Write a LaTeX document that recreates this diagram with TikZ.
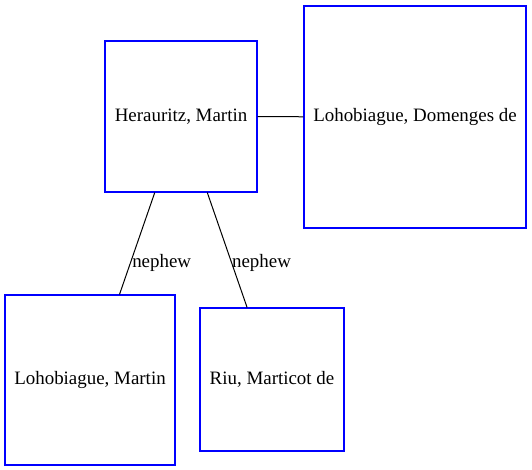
\documentclass[tikz,border=0pt]{standalone}
\usepackage{fontspec}
\setmainfont{Liberation Serif}
\usetikzlibrary{positioning}
\definecolor{PersonBlue}{HTML}{0000FF}

\begin{document}
\begin{tikzpicture}[
  x=0.75pt,y=-0.75pt,
  person/.style={draw=PersonBlue,line width=0.8pt,align=center,font=\fontsize{14.2}{16}\selectfont,inner sep=2pt},
  rel/.style={draw=black,line width=0.75pt},
  lbl/.style={font=\fontsize{14.2}{16}\selectfont,anchor=west,inner sep=0pt}
]
\useasboundingbox (0,0) rectangle (532,470);
\node[person,minimum width=114pt,minimum height=113.25pt] (herauritz) at (181,116.5) {Herauritz, Martin};
\node[person,minimum width=166.5pt,minimum height=166.5pt] (domenges) at (415,117) {Lohobiague, Domenges de};
\node[person,minimum width=127.5pt,minimum height=127.5pt] (lmartin) at (90,380) {Lohobiague, Martin};
\node[person,minimum width=108pt,minimum height=107.25pt] (riu) at (272,379.5) {Riu, Marticot de};

\draw[rel] (herauritz) -- (domenges);
\draw[rel] (herauritz) -- node[lbl,pos=0.69,xshift=1pt] {nephew} (lmartin);
\draw[rel] (herauritz) -- node[lbl,pos=0.61] {nephew} (riu);
\end{tikzpicture}
\end{document}
